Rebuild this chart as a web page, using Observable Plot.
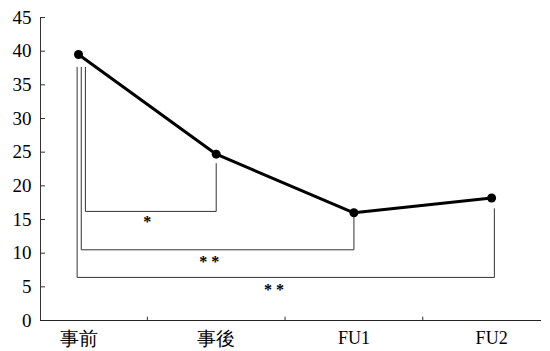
<!DOCTYPE html>
<html>
<head>
<meta charset="utf-8">
<script src="https://cdn.jsdelivr.net/npm/d3@7"></script>
<script src="https://cdn.jsdelivr.net/npm/@observablehq/plot@0.6"></script>
<style>
  html, body { margin: 0; padding: 0; background: #fff; }
  #chart svg { display: block; }
</style>
</head>
<body>
<div id="chart"></div>
<script>
const categories = ["事前", "事後", "FU1", "FU2"];
const values = [39.5, 24.7, 16.0, 18.2];
const yTicks = [0, 5, 10, 15, 20, 25, 30, 35, 40, 45];

// significance brackets (category index positions and y levels)
const bracketLeftX = [0.05, 0.02, -0.01];
const bracketRightX = [1.0, 2.0, 3.02];
const bracketLeftTop = [37.6, 37.6, 37.6];
const bracketRightTop = [23.3, 15.3, 16.6];
const bracketBottom = [16.2, 10.5, 6.4];
const bracketLabels = ["*", "* *", "* *"];
const labelX = [0.5, 0.95, 1.42];
const labelY = [14.6, 8.7, 4.6];

const points = categories.map((c, i) => ({c, i, v: values[i]}));
const bracketPaths = bracketLeftX.map((lx, k) => [
  {x: lx, y: bracketLeftTop[k], k},
  {x: lx, y: bracketBottom[k], k},
  {x: bracketRightX[k], y: bracketBottom[k], k},
  {x: bracketRightX[k], y: bracketRightTop[k], k}
]).flat();
const labels = bracketLabels.map((t, k) => ({t, x: labelX[k], y: labelY[k]}));

const serif = "Liberation Serif";

const chart = Plot.plot({
  width: 550,
  height: 351,
  marginLeft: 40,
  marginRight: 10,
  marginTop: 17,
  marginBottom: 31,
  style: {background: "#fff", color: "#000", overflow: "visible"},
  x: {domain: [-0.276, 3.355], axis: null},
  y: {domain: [0, 45], axis: null},
  marks: [
    Plot.text(yTicks, {y: d => d, frameAnchor: "left", dx: -9, textAnchor: "end", text: d => String(d), fontSize: 19, fontFamily: serif, fill: "#000"}),
    Plot.tickY(yTicks, {y: d => d, stroke: "#333", strokeWidth: 1, insetRight: 548 - 40 - 3 - 10}),
    Plot.ruleX([0.5, 1.5, 2.5], {x: d => d, y1: 0, y2: 0.5, stroke: "#333", strokeWidth: 1}),
    Plot.text(categories.filter(d => !/[A-Z]/.test(d)), {
      x: d => categories.indexOf(d), y: 0, dy: 18,
      text: d => d, fontSize: 19, fontFamily: serif, fill: "#000"
    }),
    Plot.text(categories.filter(d => /[A-Z]/.test(d)), {
      x: d => categories.indexOf(d), y: 0, dy: 18,
      text: d => d, fontSize: 18, fontFamily: serif, fill: "#000"
    }),
    Plot.frame({anchor: "left", stroke: "#333"}),
    Plot.frame({anchor: "bottom", stroke: "#222"}),
    Plot.line(bracketPaths, {x: "x", y: "y", z: "k", stroke: "#333", strokeWidth: 1}),
    Plot.text(labels, {x: "x", y: "y", text: "t", fontSize: 16, fontWeight: "bold", fill: "#000", fontFamily: serif}),
    Plot.line(points, {x: "i", y: "v", stroke: "#000", strokeWidth: 3}),
    Plot.dot(points, {x: "i", y: "v", r: 4.5, fill: "#000", stroke: "none"})
  ]
});
document.getElementById("chart").appendChild(chart);
</script>
</body>
</html>
